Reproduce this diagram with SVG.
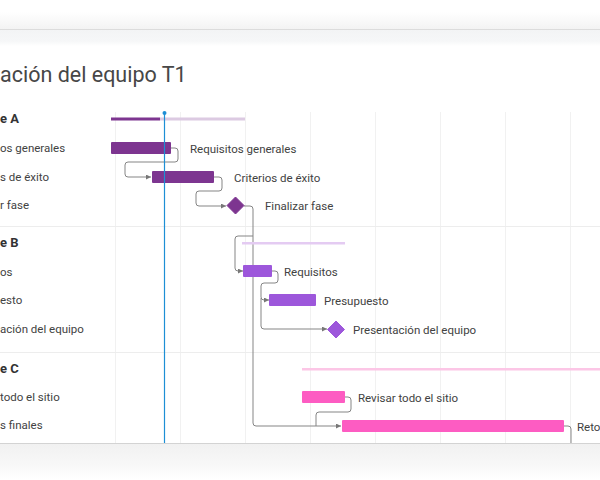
<svg xmlns="http://www.w3.org/2000/svg" width="600" height="480" viewBox="0 0 600 480">
  <defs>
    <linearGradient id="topfade" x1="0" y1="0" x2="0" y2="1">
      <stop offset="0" stop-color="#ffffff"/>
      <stop offset="1" stop-color="#f3f3f3"/>
    </linearGradient>
    <linearGradient id="bandfade" x1="0" y1="0" x2="0" y2="1">
      <stop offset="0" stop-color="#f3f4f5"/>
      <stop offset="0.7" stop-color="#f6f7f8"/>
      <stop offset="1" stop-color="#ffffff"/>
    </linearGradient>
    <linearGradient id="botfade" x1="0" y1="0" x2="0" y2="1">
      <stop offset="0" stop-color="#f1f1f1"/>
      <stop offset="0.6" stop-color="#f8f8f8"/>
      <stop offset="1" stop-color="#ffffff"/>
    </linearGradient>
    <marker id="arr" viewBox="0 0 6 6" refX="6" refY="3" markerWidth="5" markerHeight="5" markerUnits="userSpaceOnUse" orient="auto">
      <path d="M0,0 L6,3 L0,6 z" fill="#777"/>
    </marker>
  </defs>
  <style>
    text { font-family: Roboto, "Liberation Sans", Arial, sans-serif; fill: #424242; }
    .lbl { font-size: 11.5px; }
    .hdr { font-size: 13px; font-weight: bold; fill: #333; }
    .title { font-size: 21.5px; fill: #474747; }
    .grid { stroke: #f1f1f1; stroke-width: 1; }
    .sep { stroke: #ededed; stroke-width: 1; }
    .conn { fill: none; stroke: #858585; stroke-width: 1; }
    .a { fill: #7d3590; }
    .b { fill: #9d57db; }
    .c { fill: #fd5cc2; }
  </style>

  <rect x="0" y="0" width="600" height="480" fill="#ffffff"/>
  <rect x="0" y="12" width="600" height="17" fill="url(#topfade)"/>
  <rect x="0" y="30" width="600" height="16" fill="url(#bandfade)"/>
  <line x1="0" y1="29.5" x2="600" y2="29.5" stroke="#dcdcdc"/>
  <rect x="0" y="444" width="600" height="36" fill="url(#botfade)"/>

  <g id="grid">
    <line class="grid" x1="115.5" y1="112" x2="115.5" y2="443"/>
    <line class="grid" x1="180.5" y1="112" x2="180.5" y2="443"/>
    <line class="grid" x1="245.5" y1="112" x2="245.5" y2="443"/>
    <line class="grid" x1="310.5" y1="112" x2="310.5" y2="443"/>
    <line class="grid" x1="375.5" y1="112" x2="375.5" y2="443"/>
    <line class="grid" x1="440.5" y1="112" x2="440.5" y2="443"/>
    <line class="grid" x1="505.5" y1="112" x2="505.5" y2="443"/>
    <line class="grid" x1="570.5" y1="112" x2="570.5" y2="443"/>
    <line class="sep" x1="0" y1="226.5" x2="600" y2="226.5"/>
    <line class="sep" x1="0" y1="352.5" x2="600" y2="352.5"/>
  </g>

  <text class="title" x="0" y="82">ación del equipo T1</text>

  <g id="left-labels">
    <text class="hdr" x="0" y="123">e A</text>
    <text class="lbl" x="0" y="152">os generales</text>
    <text class="lbl" x="0" y="181">s de éxito</text>
    <text class="lbl" x="0" y="209">r fase</text>
    <text class="hdr" x="0" y="247">e B</text>
    <text class="lbl" x="0" y="276">os</text>
    <text class="lbl" x="0" y="304">esto</text>
    <text class="lbl" x="0" y="333">ación del equipo</text>
    <text class="hdr" x="0" y="373">e C</text>
    <text class="lbl" x="0" y="401">todo el sitio</text>
    <text class="lbl" x="0" y="429">s finales</text>
  </g>

  <g id="connectors">
    <path class="conn" marker-end="url(#arr)" d="M171,148 H175 Q178,148 178,151 V159 Q178,162 175,162 H128 Q125,162 125,165 V174 Q125,177 128,177 H151"/>
    <path class="conn" marker-end="url(#arr)" d="M214,177 H219 Q222,177 222,180 V188 Q222,191 219,191 H199 Q196,191 196,194 V203 Q196,206 199,206 H226"/>
    <path class="conn" marker-end="url(#arr)" d="M244,206 H250 Q253,206 253,209 V423 Q253,426 256,426 H341"/>
    <path class="conn" marker-end="url(#arr)" d="M253,236 H238 Q235,236 235,239 V268 Q235,271 238,271 H243"/>
    <path class="conn" marker-end="url(#arr)" d="M272,271 H275 Q278,271 278,274 V280 Q278,283 275,283 H264 Q261,283 261,286 V297 Q261,300 264,300 H269"/>
    <path class="conn" marker-end="url(#arr)" d="M261,298 V326 Q261,329 264,329 H327"/>
    <path class="conn" d="M345,397 H348 Q351,397 351,400 V409 Q351,412 348,412 H319 Q316,412 316,415 V426"/>
    <path class="conn" d="M564,426 H568 Q571,426 571,429 V443"/>
  </g>

  <g id="phase-a">
    <rect x="111" y="117.5" width="49" height="3" fill="#7d3590"/>
    <rect x="160" y="117.5" width="85" height="3" fill="#dccae2"/>
  </g>
  <g id="task-requisitos-generales">
    <rect class="a" x="111" y="142" width="60" height="12" rx="1"/>
    <text class="lbl" x="190" y="153">Requisitos generales</text>
  </g>
  <g id="task-criterios">
    <rect class="a" x="152" y="171" width="62" height="12" rx="1"/>
    <text class="lbl" x="234" y="182">Criterios de éxito</text>
  </g>
  <g id="milestone-finalizar">
    <path class="a" d="M235.5,197 L244,205.5 L235.5,214 L227,205.5 z" stroke="#7d3590" stroke-width="1" stroke-linejoin="round"/>
    <text class="lbl" x="265" y="210">Finalizar fase</text>
  </g>

  <g id="phase-b">
    <rect x="242" y="242" width="103" height="2.5" fill="#e4cbf2"/>
  </g>
  <g id="task-requisitos">
    <rect class="b" x="243" y="265" width="29" height="12" rx="1"/>
    <text class="lbl" x="284" y="276">Requisitos</text>
  </g>
  <g id="task-presupuesto">
    <rect class="b" x="269" y="294" width="47" height="12" rx="1"/>
    <text class="lbl" x="324" y="305">Presupuesto</text>
  </g>
  <g id="milestone-presentacion">
    <path class="b" d="M336,321 L344.5,329.5 L336,338 L327.5,329.5 z" stroke="#9d57db" stroke-width="1" stroke-linejoin="round"/>
    <text class="lbl" x="353" y="334">Presentación del equipo</text>
  </g>

  <g id="phase-c">
    <rect x="302" y="368" width="298" height="2.5" fill="#fcc6e6"/>
  </g>
  <g id="task-revisar">
    <rect class="c" x="302" y="391" width="43" height="12" rx="1"/>
    <text class="lbl" x="358" y="402">Revisar todo el sitio</text>
  </g>
  <g id="task-retoques">
    <rect class="c" x="342" y="420" width="222" height="12" rx="1"/>
    <text class="lbl" x="577" y="431">Reto</text>
  </g>

  <g id="today">
    <line x1="164.5" y1="113" x2="164.5" y2="443" stroke="#1d8fd5" stroke-width="1.2"/>
    <circle cx="164.5" cy="113" r="2" fill="#1d8fd5"/>
  </g>

  <line x1="0" y1="443.5" x2="600" y2="443.5" stroke="#d3d3d3"/>
</svg>
